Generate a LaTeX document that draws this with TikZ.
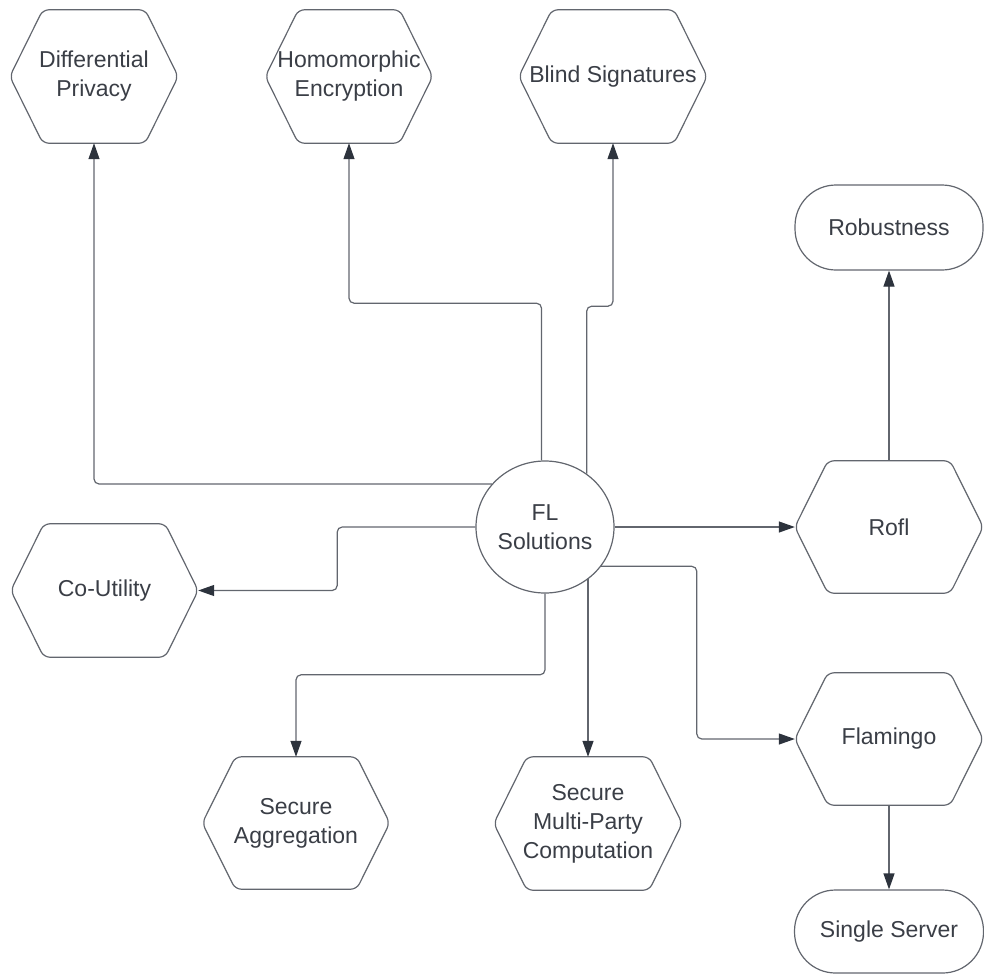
\documentclass[tikz,border=0pt]{standalone}
\usepackage{fontspec}
\setmainfont{Liberation Sans}
\usetikzlibrary{arrows.meta,shapes.geometric,calc}
\definecolor{lc}{RGB}{98,102,110}
\definecolor{ac}{RGB}{45,51,61}
\definecolor{tc}{RGB}{58,62,70}
\tikzset{
  box/.style 2 args={draw=none, minimum width=#1, minimum height=#2, inner sep=0pt,
    align=center, text=tc, font=\fontsize{23}{29}\selectfont},
  stadium/.style 2 args={box={#1}{#2}, draw=lc, line width=1.2pt, rounded corners=41pt},
  hexline/.style={draw=lc, line width=1.2pt, rounded corners=6pt},
  conn/.style={draw=lc, line width=1.2pt, rounded corners=5pt,
    -{Triangle[length=16pt,width=11pt,color=ac]}},
}
\newcommand\hexagonof[1]{\draw[hexline] (#1.west) -- ([xshift=33pt]#1.north west) -- ([xshift=-33pt]#1.north east) -- (#1.east) -- ([xshift=-33pt]#1.south east) -- ([xshift=33pt]#1.south west) -- cycle;}
\begin{document}
\begin{tikzpicture}[x=1pt,y=-1pt]
\useasboundingbox (0,0) rectangle (984,974);
% hexagon nodes
\node[box={168pt}{133pt}] (dp) at (94,76.5) {Differential\\Privacy};
\node[box={167pt}{133pt}] (he) at (349,76.5) {Homomorphic\\Encryption};
\node[box={188pt}{133pt}] (bs) at (613,76.5) {Blind Signatures};
\node[box={187pt}{133pt}] (co) at (104.5,590.5) {Co-Utility};
\node[box={187pt}{132pt}] (sa) at (296,823) {Secure\\Aggregation};
\node[box={188pt}{133pt}] (smpc) at (588,823.5) {Secure\\Multi-Party\\Computation};
\node[box={188pt}{132pt}] (rofl) at (889,527) {Rofl};
\node[box={188pt}{132pt}] (fla) at (889,739) {Flamingo};
\foreach \n in {dp,he,bs,co,sa,smpc,rofl,fla}{\hexagonof{\n}}
% stadium nodes
\node[stadium={188pt}{85pt}] (rob) at (889,227.5) {Robustness};
\node[stadium={189pt}{83pt}] (ss) at (889,931.5) {Single Server};
% centre
\node[ellipse, draw=lc, line width=1.2pt, fill=white, minimum width=138pt, minimum height=132pt,
  inner sep=0pt, align=center, text=tc, font=\fontsize{23}{29}\selectfont] (fl) at (545,527) {FL\\Solutions};
% connectors
\draw[conn] (fl.141) -| (dp.south);
\draw[conn] (fl.93) |- ($(he.south)+(0,160)$) -- (he.south);
\draw[conn] (fl.52) |- ($(bs.south)+(0,163)$) -- (bs.south);
\draw[conn] (fl.west) -| ($(co.east)+(139,0)$) -- (co.east);
\draw[conn] (fl.east) -- (rofl.west);
\draw[conn] (fl.325) -| ($(fla.west)+(-98,0)$) -- (fla.west);
\draw[conn] (fl.south) |- ($(sa.north)+(0,-82)$) -- (sa.north);
\draw[conn] (fl.310 -| smpc.north) -- (smpc.north);
\draw[conn] (rofl.north) -- (rob.south);
\draw[conn] (fla.south) -- (ss.north);
\end{tikzpicture}
\end{document}
